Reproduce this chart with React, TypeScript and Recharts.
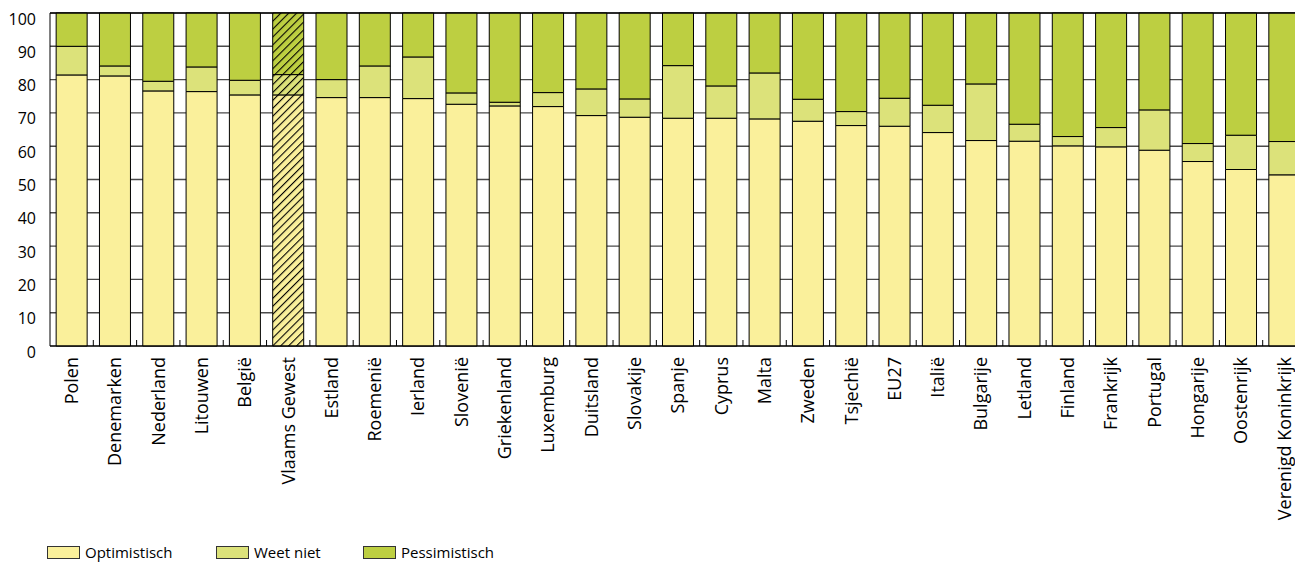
import React from 'react'
import {
  BarChart,
  Bar,
  XAxis,
  YAxis,
  CartesianGrid,
  Cell,
  Legend,
  ReferenceLine,
} from 'recharts'

const countries = [
  'Polen', 'Denemarken', 'Nederland', 'Litouwen', 'België', 'Vlaams Gewest',
  'Estland', 'Roemenië', 'Ierland', 'Slovenië', 'Griekenland', 'Luxemburg',
  'Duitsland', 'Slovakije', 'Spanje', 'Cyprus', 'Malta', 'Zweden', 'Tsjechië',
  'EU27', 'Italië', 'Bulgarije', 'Letland', 'Finland', 'Frankrijk', 'Portugal',
  'Hongarije', 'Oostenrijk', 'Verenigd Koninkrijk',
]

const optimistisch = [
  81.4, 81.1, 76.6, 76.4, 75.4, 75.4, 74.6, 74.6, 74.3, 72.6, 72.1, 71.9,
  69.2, 68.7, 68.4, 68.4, 68.2, 67.5, 66.2, 66.0, 64.1, 61.7, 61.5, 60.1,
  59.8, 58.8, 55.4, 53.0, 51.4,
]
const weetNiet = [
  8.6, 3.0, 2.9, 7.4, 4.4, 6.1, 5.4, 9.5, 12.5, 3.4, 1.1, 4.2,
  8.0, 5.5, 15.8, 9.7, 13.8, 6.6, 4.2, 8.4, 8.2, 17.0, 5.1, 2.8,
  5.8, 12.1, 5.4, 10.3, 10.0,
]
const pessimistisch = [
  10.0, 15.9, 20.5, 16.2, 20.2, 18.5, 20.0, 15.9, 13.2, 24.0, 26.8, 23.9,
  22.8, 25.8, 15.8, 21.9, 18.0, 25.9, 29.6, 25.6, 27.7, 21.3, 33.4, 37.1,
  34.4, 29.1, 39.2, 36.7, 38.6,
]
const yTicks = [0, 10, 20, 30, 40, 50, 60, 70, 80, 90, 100]
const highlighted = 'Vlaams Gewest'

const series = [
  { key: 'opt', name: 'Optimistisch', color: '#FAF09B' },
  { key: 'weet', name: 'Weet niet', color: '#DCE27A' },
  { key: 'pess', name: 'Pessimistisch', color: '#BDCF41' },
]

const data = countries.map((name, i) => ({
  name,
  opt: optimistisch[i],
  weet: weetNiet[i],
  pess: pessimistisch[i],
}))

const CHART_W = 1300
const CHART_H = 555
const Y_W = 42
const RIGHT = 2
const BAND = (CHART_W - Y_W - RIGHT) / countries.length
const FONT = '"Open Sans", sans-serif'

const XTick = (props: any) => {
  const { x, y, payload, index } = props
  return (
    <g>
      {index < countries.length - 1 && (
        <line x1={x + BAND / 2} x2={x + BAND / 2} y1={y} y2={y - 6} stroke='#000' />
      )}
      <text
        x={x}
        y={y + 11}
        transform={`rotate(-90, ${x}, ${y + 11})`}
        textAnchor='end'
        dy='0.35em'
        fontSize={18}
        fontFamily={FONT}
        fill='#000'
      >
        {payload.value}
      </text>
    </g>
  )
}

const YTick = (props: any) => {
  const { x, y, payload } = props
  return (
    <text x={x} y={y} dy={11.5} textAnchor='end' fontSize={16} fontFamily={FONT} fill='#000'>
      {payload.value}
    </text>
  )
}

const legendWidths = [169, 147, 160]

const LegendContent = () => (
  <div style={{ height: 22, display: 'flex', alignItems: 'center', paddingLeft: 39, fontFamily: FONT, fontSize: 15 }}>
    {series.map((s, i) => (
      <div key={s.key} style={{ width: legendWidths[i], display: 'flex', alignItems: 'center' }}>
        <span style={{ width: 31, height: 11, background: s.color, border: '1px solid #333', marginRight: 5 }} />
        <span>{s.name}</span>
      </div>
    ))}
  </div>
)

export default function App() {
  return (
    <div
      style={{
        width: 1295,
        height: 563,
        padding: '8px 0 0 8px',
        boxSizing: 'border-box',
        overflow: 'hidden',
      }}
    >
      <style>{'html,body{margin:0;padding:0;overflow:hidden}'}</style>
      <BarChart
        width={CHART_W}
        height={CHART_H}
        data={data}
        margin={{ top: 5, right: RIGHT, bottom: 0, left: 0 }}
        barCategoryGap='14.2%'
      >
        <defs>
          {series.map((s) => (
            <pattern
              key={s.key}
              id={`hatch-${s.key}`}
              patternUnits='userSpaceOnUse'
              width={5.6}
              height={5.6}
              patternTransform='rotate(45)'
            >
              <rect width={5.6} height={5.6} fill={s.color} />
              <line x1={0} y1={0} x2={0} y2={5.6} stroke='#000' strokeWidth={2.2} />
            </pattern>
          ))}
        </defs>
        <CartesianGrid vertical={false} stroke='#4a4a4a' strokeWidth={1.4} />
        <XAxis
          dataKey='name'
          interval={0}
          height={195}
          tickLine={false}
          tickSize={0}
          tickMargin={0}
          axisLine={{ stroke: '#000' }}
          tick={<XTick />}
        />
        <YAxis
          width={Y_W}
          domain={[0, 100]}
          ticks={yTicks}
          interval={0}
          tickLine={false}
          tickSize={0}
          tickMargin={14}
          axisLine={{ stroke: '#000' }}
          tick={<YTick />}
        />
        <ReferenceLine y={100} stroke='#000' />
        {series.map((s) => (
          <Bar
            key={s.key}
            dataKey={s.key}
            name={s.name}
            stackId='a'
            fill={s.color}
            stroke='#000'
            strokeWidth={1}
            isAnimationActive={false}
          >
            {data.map((d) => (
              <Cell
                key={d.name}
                fill={d.name === highlighted ? `url(#hatch-${s.key})` : s.color}
              />
            ))}
          </Bar>
        ))}
        <Legend verticalAlign='bottom' content={<LegendContent />} />
      </BarChart>
    </div>
  )
}
